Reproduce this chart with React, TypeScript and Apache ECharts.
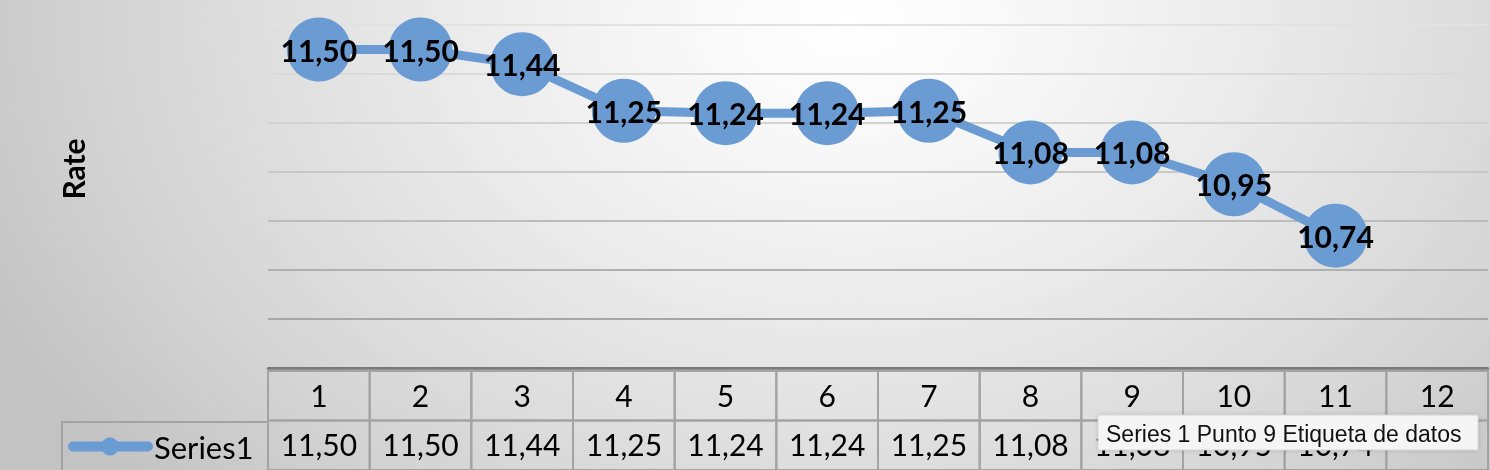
import React, { useEffect, useRef } from "react";
import * as echarts from "echarts";

const categories = ["1", "2", "3", "4", "5", "6", "7", "8", "9", "10", "11", "12"];
const rateValues: (number | null)[] = [11.5, 11.5, 11.44, 11.25, 11.24, 11.24, 11.25, 11.08, 11.08, 10.95, 10.74, null];
const seriesName = "Series1";
const axisTitle = "Rate";
const tooltipText = "Series 1 Punto 9 Etiqueta de datos";
const yMin = 10.2;
const yMax = 11.6;
const yStep = 0.2;

const fmt = (v: number | null) => (v == null ? "" : v.toFixed(2).replace(".", ","));

const BLUE = "#6a9bd2";
const FONT = "Lato, 'Open Sans', sans-serif";

export default function App() {
  const ref = useRef<HTMLDivElement>(null);

  useEffect(() => {
    document.body.style.margin = "0";
    if (!ref.current) return;
    const chart = echarts.init(ref.current, undefined, { renderer: "svg" });

    const gridLeft = 268;
    const gridRight = 2;
    const axisY = 368;
    const tableTop = 371;
    const rowH = 51;

    const tableData: any[] = [];
    categories.forEach((c, i) => {
      tableData.push([i, 0, c]);
      tableData.push([i, 1, fmt(rateValues[i])]);
    });

    const option: any = {
      animation: false,
      backgroundColor: "transparent",
      grid: [
        { left: gridLeft, right: gridRight, top: 25, bottom: 470 - axisY },
        { left: gridLeft, right: gridRight, top: tableTop, height: rowH * 2 },
      ],
      xAxis: [
        {
          type: "category",
          data: categories,
          gridIndex: 0,
          boundaryGap: true,
          axisLine: { show: true, lineStyle: { color: "#7a7a7a", width: 2.5 } },
          axisTick: { show: false },
          axisLabel: { show: false },
          splitLine: { show: false },
        },
        {
          type: "category",
          data: categories,
          gridIndex: 1,
          show: false,
        },
      ],
      yAxis: [
        {
          type: "value",
          gridIndex: 0,
          min: yMin,
          max: yMax,
          interval: yStep,
          axisLine: { show: false },
          axisTick: { show: false },
          axisLabel: { show: false },
          splitLine: {
            show: true,
            lineStyle: {
              width: 2,
              color: ["#7a7a7a", "#a6a6a6", "#b0b0b0", "#bcbcbc", "#c8c8c8", "#d2d2d2", "#dadada", "#e2e2e2"],
            },
          },
        },
        {
          type: "category",
          gridIndex: 1,
          data: ["header", seriesName],
          inverse: true,
          show: false,
        },
      ],
      series: [
        {
          type: "line",
          name: seriesName,
          xAxisIndex: 0,
          yAxisIndex: 0,
          data: rateValues,
          symbol: "circle",
          symbolSize: 64,
          lineStyle: { color: BLUE, width: 9 },
          itemStyle: { color: BLUE },
          z: 3,
          label: {
            show: true,
            position: "inside",
            color: "#000",
            fontFamily: FONT,
            fontWeight: "bold",
            fontSize: 30,
            formatter: (p: any) => fmt(p.value),
          },
        },
        {
          type: "custom",
          xAxisIndex: 1,
          yAxisIndex: 1,
          data: tableData,
          renderItem: (params: any, api: any) => {
            const x = api.value(0);
            const y = api.value(1);
            const text = tableData[params.dataIndex][2];
            const c = api.coord([x, y]);
            const s = api.size([1, 1]);
            return {
              type: "group",
              children: [
                {
                  type: "rect",
                  shape: { x: c[0] - s[0] / 2, y: c[1] - s[1] / 2, width: s[0], height: s[1] },
                  style: { fill: "transparent", stroke: "#a3a3a3", lineWidth: 2 },
                },
                {
                  type: "text",
                  x: c[0],
                  y: c[1] - 1,
                  style: {
                    text,
                    fill: "#000",
                    font: `30px ${FONT}`,
                    align: "center",
                    verticalAlign: "middle",
                  },
                },
              ],
            };
          },
        },
      ],
      graphic: [
        {
          type: "text",
          x: 73,
          y: 169,
          rotation: Math.PI / 2,
          style: {
            text: axisTitle,
            font: `bold 30px ${FONT}`,
            fill: "#000",
            align: "center",
            verticalAlign: "middle",
          },
        },
        {
          type: "rect",
          shape: { x: 62, y: tableTop + rowH, width: gridLeft - 62, height: rowH },
          style: { fill: "transparent", stroke: "#a3a3a3", lineWidth: 2 },
        },
        {
          type: "line",
          shape: { x1: 73, y1: tableTop + rowH * 1.5 - 1, x2: 148, y2: tableTop + rowH * 1.5 - 1 },
          style: { stroke: BLUE, lineWidth: 10, lineCap: "round" },
        },
        {
          type: "circle",
          shape: { cx: 110, cy: tableTop + rowH * 1.5 - 1, r: 9 },
          style: { fill: BLUE },
        },
        {
          type: "text",
          x: 154,
          y: tableTop + rowH * 1.5 - 1,
          style: {
            text: seriesName,
            font: `31px ${FONT}`,
            fill: "#000",
            align: "left",
            verticalAlign: "middle",
          },
        },
        {
          type: "rect",
          z: 100,
          shape: { x: 1098, y: 415, width: 380, height: 35 },
          style: {
            fill: "#f5f5f5",
            stroke: "#d4d4d4",
            lineWidth: 1,
            shadowBlur: 4,
            shadowColor: "rgba(0,0,0,0.15)",
          },
        },
        {
          type: "text",
          z: 101,
          x: 1106,
          y: 434,
          style: {
            text: tooltipText,
            font: "23px 'Liberation Sans', Arial, sans-serif",
            fill: "#111",
            align: "left",
            verticalAlign: "middle",
          },
        },
      ],
    };

    chart.setOption(option);
    return () => chart.dispose();
  }, []);

  return (
    <div
      ref={ref}
      style={{
        position: "fixed",
        left: 0,
        top: 0,
        width: 1490,
        height: 470,
        background:
          "radial-gradient(ellipse 950px 700px at 850px 20px, #ffffff 0%, #f6f6f6 22%, #e6e6e6 50%, #d4d4d4 78%, #c3c3c3 100%)",
      }}
    />
  );
}
